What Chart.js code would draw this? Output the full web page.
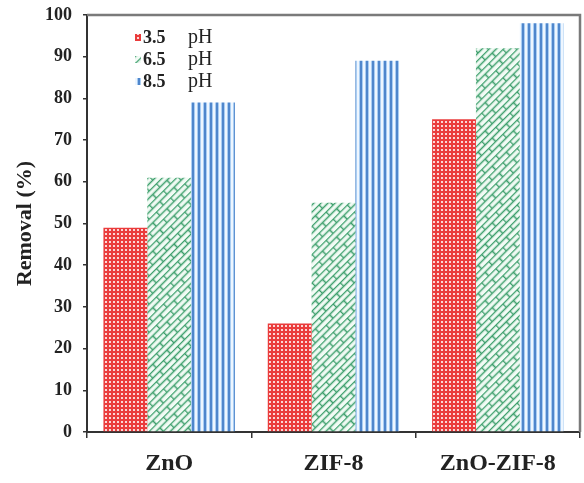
<!DOCTYPE html>
<html lang="en">
<head>
    <meta charset="UTF-8">
    <title>Removal vs pH</title>
    <script src="https://cdn.jsdelivr.net/npm/chart.js"></script>
    <style>
        body {
            margin: 0;
            padding: 0;
            background-color: #fff;
        }
        .container {
            width: 584px;
            height: 483px;
        }
    </style>
</head>
<body>
    <div class="container">
        <canvas id="removalChart" width="584" height="483"></canvas>
    </div>

    <script>
        // Adsorbents on the x axis
        const categories = ['ZnO', 'ZIF-8', 'ZnO-ZIF-8'];
        // Removal (%) for each pH
        const ph35 = [49, 26, 75];
        const ph65 = [61, 55, 92];
        const ph85 = [79, 89, 98];
        const seriesLabels = ['3.5 pH', '6.5 pH', '8.5 pH'];
        const yTicks = [0, 10, 20, 30, 40, 50, 60, 70, 80, 90, 100];

        const serif = "'Liberation Serif', 'Times New Roman', serif";

        function tile(w, h, paint) {
            const c = document.createElement('canvas');
            c.width = w;
            c.height = h;
            paint(c.getContext('2d'));
            return c;
        }

        const ctx = document.getElementById('removalChart').getContext('2d');

        // red checked grid
        const redTile = tile(4, 4, g => {
            g.fillStyle = '#ea3c3c';
            g.fillRect(0, 0, 4, 4);
            g.fillStyle = '#fbd6d6';
            g.fillRect(1, 1, 2, 2);
        });
        const redPattern = ctx.createPattern(redTile, 'repeat');

        // green slanted bricks
        const greenTile = tile(20, 10, g => {
            g.fillStyle = '#f2fbf5';
            g.fillRect(0, 0, 20, 10);
            g.strokeStyle = '#3d9f6c';
            g.lineWidth = 1.6;
            g.beginPath();
            g.moveTo(0, 0.5); g.lineTo(20, 0.5);
            g.moveTo(0, 5.5); g.lineTo(20, 5.5);
            g.moveTo(0.5, 0); g.lineTo(0.5, 5);
            g.moveTo(10.5, 5); g.lineTo(10.5, 10);
            g.stroke();
        });
        const greenPattern = ctx.createPattern(greenTile, 'repeat');
        greenPattern.setTransform(new DOMMatrix().rotate(-45));

        // blue vertical stripes
        const blueTile = tile(6, 4, g => {
            g.fillStyle = '#4f86cc';
            g.fillRect(0, 0, 2, 4);
            g.fillStyle = '#a9cdf2';
            g.fillRect(2, 0, 1, 4);
            g.fillStyle = '#eef6ff';
            g.fillRect(3, 0, 2, 4);
            g.fillStyle = '#a9cdf2';
            g.fillRect(5, 0, 1, 4);
        });
        const bluePattern = ctx.createPattern(blueTile, 'repeat');

        // gray frame on top and right of the plot, plus the legend inside it
        const framePlugin = {
            id: 'frame',
            afterDraw(chart) {
                const a = chart.chartArea;
                const c = chart.ctx;
                c.save();
                c.strokeStyle = '#7a7a7a';
                c.lineWidth = 2.5;
                c.beginPath();
                c.moveTo(a.left, a.top);
                c.lineTo(a.right, a.top);
                c.lineTo(a.right, a.bottom);
                c.stroke();

                const rows = [38, 60, 82];
                chart.data.datasets.forEach((ds, i) => {
                    const y = rows[i];
                    c.fillStyle = ds.backgroundColor;
                    c.fillRect(135, y - 4, 6, 7);
                    const parts = ds.label.split(' ');
                    c.fillStyle = '#222';
                    c.textBaseline = 'middle';
                    c.font = 'bold 18px ' + serif;
                    c.fillText(parts[0], 143, y);
                    c.font = '20px ' + serif;
                    c.fillText(parts[1], 188, y);
                });
                c.restore();
            }
        };

        new Chart(ctx, {
            type: 'bar',
            data: {
                labels: categories,
                datasets: [
                    { label: seriesLabels[0], data: ph35, backgroundColor: redPattern },
                    { label: seriesLabels[1], data: ph65, backgroundColor: greenPattern },
                    { label: seriesLabels[2], data: ph85, backgroundColor: bluePattern }
                ]
            },
            options: {
                responsive: false,
                animation: false,
                categoryPercentage: 0.8,
                barPercentage: 1.0,
                layout: {
                    padding: { top: 15, right: 4, left: 0, bottom: 0 }
                },
                plugins: {
                    legend: { display: false },
                    tooltip: { enabled: false }
                },
                scales: {
                    x: {
                        afterFit: s => {
                            s.height = 51;
                            s.paddingLeft = 0;
                            s.paddingRight = 0;
                        },
                        grid: {
                            drawOnChartArea: false,
                            offset: true,
                            tickLength: 6,
                            color: '#333',
                            lineWidth: 1.5
                        },
                        border: { color: '#333', width: 2 },
                        ticks: {
                            color: '#222',
                            padding: 11,
                            font: { family: serif, size: 24, weight: 'bold' }
                        }
                    },
                    y: {
                        min: 0,
                        max: 100,
                        afterFit: s => {
                            s.width = 87;
                            s.paddingTop = 0;
                            s.paddingBottom = 0;
                        },
                        afterBuildTicks: s => { s.ticks = yTicks.map(v => ({ value: v })); },
                        grid: {
                            drawOnChartArea: false,
                            tickLength: 4,
                            color: '#333',
                            lineWidth: 1.5
                        },
                        border: { color: '#333', width: 2 },
                        ticks: {
                            color: '#222',
                            padding: 11,
                            font: { family: serif, size: 18, weight: 'bold' }
                        },
                        title: {
                            display: true,
                            text: 'Removal (%)',
                            color: '#222',
                            padding: { top: 12, bottom: 0 },
                            font: { family: serif, size: 22, weight: 'bold' }
                        }
                    }
                }
            },
            plugins: [framePlugin]
        });
    </script>
</body>
</html>
